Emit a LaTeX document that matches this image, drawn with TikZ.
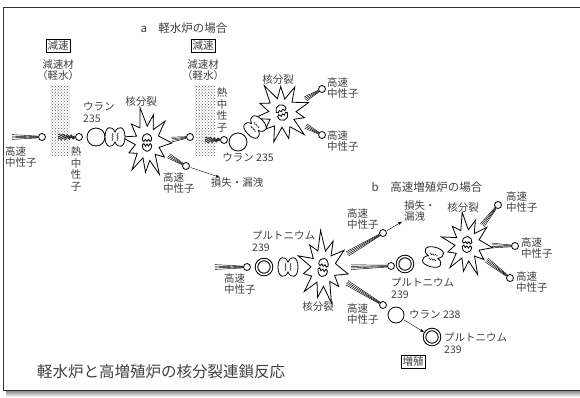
\documentclass[tikz,border=0pt]{standalone}
\usepackage{fontspec}
\setmainfont{Noto Sans CJK JP}
\usetikzlibrary{shapes,arrows}
\usetikzlibrary{calc,patterns,decorations.pathmorphing}
\tikzset{%
	particle/.style = {draw, thick, circle, fill=white, inner sep=0pt},
	fast/.style     = {particle, minimum size=7pt}, % fast neutron
	slow/.style     = {particle, minimum size=7pt}, % thermal neutron
	uran/.style     = {particle, minimum size=18pt},
	pluto/.style    = {draw, circle, fill=white, inner sep=0pt, minimum size=15pt,
		line width=1pt, double, double distance=1.5pt},
	tag/.style      = {draw, thin, rectangle, inner sep=1.5pt, text=black!75,
		font=\fontsize{10.5}{12}\selectfont},
	txt/.style      = {inner sep=0pt, align=left, text=black!75,
		font=\fontsize{10.5}{11.8}\selectfont},
	head/.style     = {inner sep=0pt, text=black!75, font=\fontsize{11.5}{13}\selectfont},
	wave/.style     = {decorate, decoration={snake, amplitude=0.7pt, segment length=2.5pt}},
	moderator/.style = {pattern=crosshatch dots, pattern color=black!60},
	pics/burst/.style = {code={
		\draw[thick, fill=white] (0:32)
			\foreach \a/\r in {15/16, 31/26, 46/15, 62/34, 78/17, 94/28, 110/15, 127/32,
				142/16, 158/25, 174/15, 190/33, 206/15, 222/27, 238/17, 255/35, 271/16,
				287/28, 302/15, 318/31, 335/16} { -- (\a:\r) } -- cycle;
		\draw[thick, fill=white] (-6,-3) arc[start angle=180, end angle=360, radius=6]
			-- (4,-1.5) -- (2,-3.5) -- (0,-1.5) -- (-2,-3.5) -- (-4,-1.5) -- cycle;
		\draw[thick, fill=white] (-6,2) arc[start angle=180, end angle=0, radius=6]
			-- (4,0.5) -- (2,3) -- (0,1) -- (-2,3) -- (-4,0.5) -- cycle;
	}},
	pics/split/.style = {code={
		\draw[thick, fill=white] (0,-5) .. controls (-3,-12) and (-10,-11) .. (-10,0)
			.. controls (-10,11) and (-3,12) .. (0,5)
			.. controls (3,12) and (10,11) .. (10,0)
			.. controls (10,-11) and (3,-12) .. (0,-5) -- cycle;
		\draw[wave] (-2.5,-4) -- (-2.5,4);
		\draw[wave] (2.5,-4) -- (2.5,4);
	}}
}
% speed lines behind a fast neutron
\newcommand{\fasttail}[2]{%
	\coordinate (tA) at (#1);
	\coordinate (tB) at ($(#2)!4pt!(#1)$);
	\foreach \k in {-1.5,-0.5,0.5,1.5}
		\draw[line width=0.45pt] ($(tA)!\k*1.6pt!90:(tB)$) -- ($(tB)!\k*0.6pt!-90:(tA)$);
}
% wavy lines behind a thermal neutron
\newcommand{\thermtail}[2]{%
	\coordinate (tA) at (#1);
	\coordinate (tB) at ($(#2)!4pt!(#1)$);
	\foreach \k in {-1,0,1}
		\draw[decorate, decoration={snake, amplitude=1pt, segment length=4pt}, semithick]
			($(tA)!\k*2.2pt!90:(tB)$) -- ($(tB)!\k*0.9pt!-90:(tA)$);
}

\begin{document}
\begin{tikzpicture}[x=1pt, y=-1pt]
	\useasboundingbox (0,0) rectangle (580,397);

	% frame
	\shade[top color=black!45, bottom color=white] (6,391) rectangle (580,397);
	\draw[line width=0.8pt, black!80] (580,7) -- (3,7) -- (3,390) -- (580,390);

	% moderators
	\fill[moderator] (50,85) rectangle (70,155);
	\fill[moderator] (195,85) rectangle (215,155);

	% ---- a: light water reactor
	\node[head] (ta) at (184,28) {a\quad 軽水炉の場合};
	\node[tag] (m1) at (58,46) {減速};
	\node[txt, align=center] (w1) at (58,70) {減速材\\（軽水）};
	\node[tag] (m2) at (203,46) {減速};
	\node[txt, align=center] (w2) at (203,70) {減速材\\（軽水）};

	\coordinate (f1) at (147,143);
	\coordinate (f2) at (282,113);

	\node[fast] (n1) at (42,137) {};
	\node[slow] (t1) at (79,137) {};
	\node[uran] (u1) at (96,137) {};
	\node[fast] (n2) at (190,137) {};
	\node[fast] (n3) at (186,166) {};
	\node[slow] (t2) at (224,140) {};
	\node[uran] (u2) at (238,142) {};
	\node[fast] (n4) at (322,89) {};
	\node[fast] (n5) at (322,135) {};

	\coordinate (s1) at (12,137);
	\coordinate (s2) at (58,137);
	\coordinate (s3) at (205,140);
	\fasttail{s1}{n1}
	\thermtail{s2}{t1}
	\thermtail{s3}{t2}
	\fasttail{$(f1)!25pt!(n2)$}{n2}
	\fasttail{$(f1)!25pt!(n3)$}{n3}
	\fasttail{$(f2)!27pt!(n4)$}{n4}
	\fasttail{$(f2)!27pt!(n5)$}{n5}
	\pic[xscale=0.78, yscale=1.05] at (f1) {burst};
	\pic[xscale=0.88, yscale=0.95, rotate=20] at (f2) {burst};
	\pic at (115,137) {split};
	\pic[rotate=45] at (255,127) {split};

	\node[txt] (l1) at (21,157) {高速\\中性子};
	\node[txt, align=center] (l2) at (76,169) {熱\\中\\性\\子};
	\node[txt, align=center] (l3) at (222,110) {熱\\中\\性\\子};
	\node[txt, anchor=west] (l4) at (83,112) {ウラン\\235};
	\node[txt] (k1) at (141,102) {核分裂};
	\node[txt, anchor=west] (l5) at (163,183) {高速\\中性子};
	\node[txt] (loss1) at (237,183) {損失・漏洩};
	\node[txt] (l6) at (248,158) {ウラン 235};
	\node[txt] (k2) at (278,80) {核分裂};
	\node[txt, anchor=west] (l7) at (327,88) {高速\\中性子};
	\node[txt, anchor=west] (l8) at (327,141) {高速\\中性子};
	\draw[thin, -latex, shorten <=1pt, shorten >=2pt] (n3) -- (loss1);

	% ---- b: fast breeder reactor
	\node[head] (tb) at (427,187) {b\quad 高速増殖炉の場合};

	\coordinate (f3) at (323,268);
	\coordinate (f4) at (467,245);

	\node[fast] (n6) at (247,267) {};
	\node[pluto] (p1) at (264,267) {};
	\node[fast] (n7) at (383,233) {};
	\node[fast] (n8) at (391,266) {};
	\node[fast] (n9) at (383,305) {};
	\node[pluto] (p2) at (405,264) {};
	\node[fast] (n10) at (498,205) {};
	\node[fast] (n11) at (515,246) {};
	\node[fast] (n12) at (510,278) {};
	\node[uran, minimum size=16pt] (u3) at (396,315) {};
	\node[pluto] (p3) at (432,337) {};

	\coordinate (s4) at (215,267);
	\fasttail{s4}{n6}
	\fasttail{$(f3)!28pt!(n7)$}{n7}
	\fasttail{$(f3)!28pt!(n8)$}{n8}
	\fasttail{$(f3)!28pt!(n9)$}{n9}
	\fasttail{$(f4)!25pt!(n10)$}{n10}
	\fasttail{$(f4)!25pt!(n11)$}{n11}
	\fasttail{$(f4)!25pt!(n12)$}{n12}
	\pic[xscale=0.8, yscale=1.08, rotate=-10] at (f3) {burst};
	\pic[xscale=0.8, yscale=0.95, rotate=-5] at (f4) {burst};
	\pic at (288,267) {split};
	\pic[rotate=75] at (433,257) {split};

	\node[txt, anchor=west] (l9) at (224,284) {高速\\中性子};
	\node[txt, anchor=west] (l10) at (252,241) {プルトニウム\\239};
	\node[txt] (k3) at (318,307) {核分裂};
	\node[txt, anchor=west] (l11) at (347,219) {高速\\中性子};
	\node[txt, anchor=west] (loss2) at (404,211) {損失・\\漏洩};
	\node[txt, anchor=west] (l12) at (347,314) {高速\\中性子};
	\node[txt, anchor=west] (l13) at (391,288) {プルトニウム\\239};
	\node[txt] (k4) at (463,208) {核分裂};
	\node[txt, anchor=west] (l14) at (506,202) {高速\\中性子};
	\node[txt, anchor=west] (l15) at (521,248) {高速\\中性子};
	\node[txt, anchor=west] (l16) at (516,282) {高速\\中性子};
	\node[txt, anchor=west] (l17) at (409,315) {ウラン 238};
	\node[txt, anchor=west] (l18) at (444,343) {プルトニウム\\239};
	\node[tag] (br) at (413,362) {増殖};
	\draw[thin, -latex, shorten <=1pt, shorten >=2pt] (n7) -- (loss2);
	\draw[thin, -latex, shorten <=1pt, shorten >=1pt] (u3) -- (p3);

	% caption
	\node[inner sep=0pt, text=black!75, font=\fontsize{15.5}{18}\selectfont]
		(cap) at (161,372) {軽水炉と高増殖炉の核分裂連鎖反応};
\end{tikzpicture}
\end{document}
